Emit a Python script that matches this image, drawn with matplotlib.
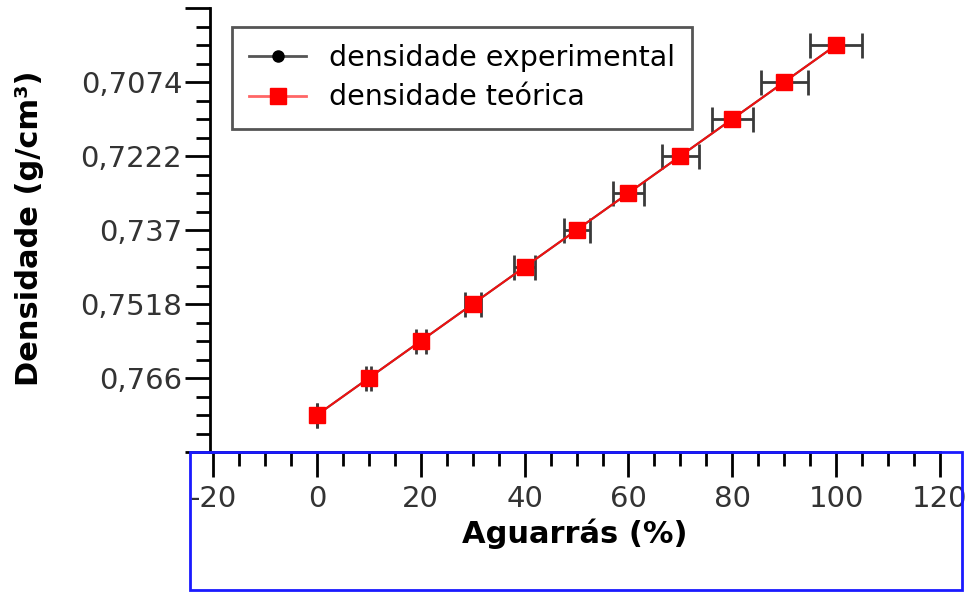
import matplotlib
matplotlib.use('Agg')
import matplotlib.pyplot as plt
from matplotlib.ticker import FixedLocator, MultipleLocator
from matplotlib.patches import Rectangle
from matplotlib.lines import Line2D

# data
aguarras = [0, 10, 20, 30, 40, 50, 60, 70, 80, 90, 100]
dens_exp = [0.7740, 0.7666, 0.7592, 0.7518, 0.7444, 0.7370, 0.7296, 0.7222, 0.7148, 0.7074, 0.7000]
dens_teo = [0.7740, 0.7666, 0.7592, 0.7518, 0.7444, 0.7370, 0.7296, 0.7222, 0.7148, 0.7074, 0.7000]
err_x = [0.0, 0.5, 1.0, 1.5, 2.0, 2.5, 3.0, 3.5, 4.0, 4.5, 5.0]

y_ticks = [0.6926, 0.7074, 0.7222, 0.7370, 0.7518, 0.7666, 0.7814]
y_labels = ['', '0,7074', '0,7222', '0,737', '0,7518', '0,766', '']

plt.rcParams['font.family'] = 'DejaVu Sans'
plt.rcParams['axes.unicode_minus'] = False

fig = plt.figure( figsize=(9.66, 5.92), dpi=100)
ax = fig.add_axes( [210/966., 1 - 452/592., (940-210)/966., (452-8)/592.])

# experimental with x error bars
ax.errorbar( aguarras, dens_exp, xerr=err_x, color='#555555', ecolor='#3a3a3a',
             marker='o', markersize=8, markerfacecolor='black', markeredgecolor='black',
             lw=1.5, elinewidth=2, capsize=9, capthick=2, zorder=3)
ax.plot( aguarras, dens_teo, color='#ee1111', lw=1.5, marker='s', markersize=12,
         markerfacecolor='red', markeredgecolor='red', zorder=4)

ax.set_xlim( -20.6, 120)
ax.set_ylim( y_ticks[-1], y_ticks[0])

step = (y_ticks[1] - y_ticks[0]) / 4.
minor = []
for t in y_ticks[:-1]:
    minor += [t + k*step for k in range( 1, 4)]

ax.yaxis.set_major_locator( FixedLocator( y_ticks))
ax.set_yticklabels( y_labels)
ax.yaxis.set_minor_locator( FixedLocator( minor))
ax.xaxis.set_major_locator( MultipleLocator( 20))
ax.xaxis.set_minor_locator( MultipleLocator( 5))

for side in ['top', 'right']:
    ax.spines[side].set_visible( False)
ax.spines['left'].set_linewidth( 2)
ax.spines['bottom'].set_linewidth( 2)

ax.tick_params( axis='both', which='major', direction='out', length=18, width=2,
                labelsize=21, labelcolor='#333333')
ax.tick_params( axis='both', which='minor', direction='out', length=10, width=2)
ax.tick_params( axis='x', which='major', pad=6)
ax.tick_params( axis='y', which='major', pad=2)

ax.set_xlabel( 'Aguarrás (%)', fontsize=22, fontweight='bold', labelpad=4)
ax.set_ylabel( 'Densidade (g/cm³)', fontsize=22, fontweight='bold')
ax.yaxis.set_label_coords( (44-210)/730., 1 - (228-8)/444.)

h_exp = Line2D( [], [], color='#555555', lw=2, marker='o', markersize=8,
                markerfacecolor='black', markeredgecolor='black')
h_teo = Line2D( [], [], color='#ff6666', lw=2, marker='s', markersize=12,
                markerfacecolor='red', markeredgecolor='red')
leg = ax.legend( [h_exp, h_teo], ['densidade experimental', 'densidade teórica'],
                 loc='upper left', bbox_to_anchor=( (232-210)/730., 1 - (27-8)/444.),
                 borderaxespad=0, fontsize=20.5, fancybox=False, framealpha=1,
                 edgecolor='#555555', handlelength=2.0, borderpad=0.6, labelspacing=0.4,
                 handletextpad=0.8)
leg.get_frame().set_linewidth( 2)

# blue frame round the x axis area
fig.patches.append( Rectangle( (190/966., 2/592.), (962-190)/966., (590-452)/592.,
                               transform=fig.transFigure, fill=False, edgecolor='#1a1aff',
                               lw=2, zorder=0))

fig.savefig( 'out.png', dpi=100)
